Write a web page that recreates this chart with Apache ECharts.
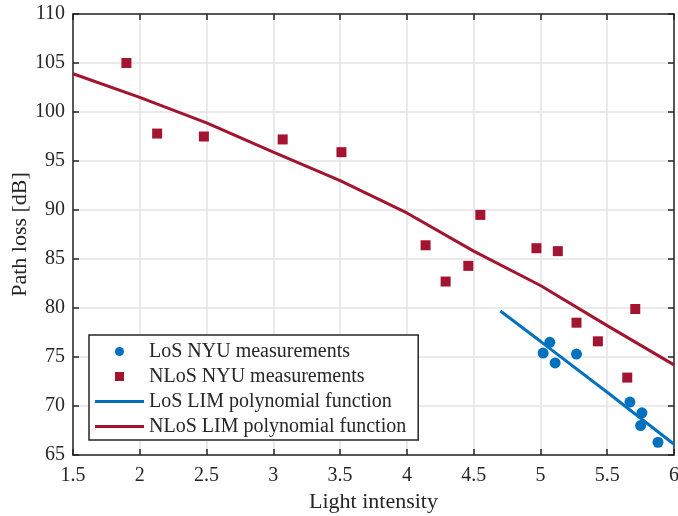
<!DOCTYPE html>
<html>
<head>
<meta charset="utf-8">
<script src="https://cdn.jsdelivr.net/npm/echarts@6/dist/echarts.min.js"></script>
<style>html,body{margin:0;padding:0;background:#fff}#c{width:678px;height:516px}</style>
</head>
<body>
<div id="c"></div>
<script>
// LoS NYU measurements
const losX = [5.02, 5.07, 5.11, 5.27, 5.67, 5.75, 5.76, 5.88];
const losY = [75.4, 76.5, 74.4, 75.3, 70.4, 68.0, 69.3, 66.3];
// NLoS NYU measurements
const nlosX = [1.90, 2.13, 2.48, 3.07, 3.51, 4.14, 4.29, 4.46, 4.55, 4.97, 5.13, 5.27, 5.43, 5.65, 5.71];
const nlosY = [105.0, 97.8, 97.5, 97.2, 95.9, 86.4, 82.7, 84.3, 89.5, 86.1, 85.8, 78.5, 76.6, 72.9, 79.9];
// LoS LIM polynomial function
const losFitX = [4.7, 5.0, 5.5, 6.0];
const losFitY = [79.7, 76.6, 71.4, 66.1];
// NLoS LIM polynomial function
const nlosFitX = [1.5, 2.0, 2.5, 3.0, 3.5, 4.0, 4.5, 5.0, 5.5, 6.0];
const nlosFitY = [103.9, 101.5, 98.9, 95.9, 93.0, 89.7, 85.8, 82.3, 78.2, 74.2];

const seriesNames = ['LoS NYU measurements', 'NLoS NYU measurements', 'LoS LIM polynomial function', 'NLoS LIM polynomial function'];
const xTicks = { min: 1.5, max: 6, interval: 0.5 };
const yTicks = { min: 65, max: 110, interval: 5 };

const zip = (xs, ys) => xs.map((x, i) => [x, ys[i]]);
const BLUE = '#0072BD', RED = '#A2142F';
const FONT = 'Liberation Serif';

const chart = echarts.init(document.getElementById('c'), null, { renderer: 'canvas' });

const axisCommon = {
  type: 'value',
  axisLine: { show: true, onZero: false, lineStyle: { color: '#262626', width: 1.5 } },
  axisTick: { show: true, inside: true, length: 6, lineStyle: { color: '#262626', width: 1.5 } },
  splitLine: { show: false },
};

chart.setOption({
  animation: false,
  backgroundColor: '#fff',
  grid: { left: 73, top: 14, right: 4, bottom: 61, containLabel: false, outerBoundsMode: 'none' },
  xAxis: [
    Object.assign({}, axisCommon, {
      min: xTicks.min, max: xTicks.max, interval: xTicks.interval,
      position: 'bottom',
      name: 'Light intensity', nameLocation: 'middle', nameGap: 36, nameMoveOverlap: false,
      nameTextStyle: { fontFamily: FONT, fontSize: 22, color: '#262626' },
      axisLabel: { fontFamily: FONT, fontSize: 20, color: '#262626', margin: 11 },
      splitLine: { show: true, lineStyle: { color: '#e3e3e3', width: 1.5 } }
    }),
    Object.assign({}, axisCommon, {
      min: xTicks.min, max: xTicks.max, interval: xTicks.interval,
      position: 'top', axisLabel: { show: false }
    })
  ],
  yAxis: [
    Object.assign({}, axisCommon, {
      min: yTicks.min, max: yTicks.max, interval: yTicks.interval,
      position: 'left',
      name: 'Path loss [dB]', nameLocation: 'middle', nameGap: 42, nameRotate: 90, nameMoveOverlap: false,
      nameTextStyle: { fontFamily: FONT, fontSize: 22, color: '#262626' },
      axisLabel: { fontFamily: FONT, fontSize: 20, color: '#262626', margin: 8 },
      splitLine: { show: true, lineStyle: { color: '#e3e3e3', width: 1.5 } }
    }),
    Object.assign({}, axisCommon, {
      min: yTicks.min, max: yTicks.max, interval: yTicks.interval,
      position: 'right', axisLabel: { show: false }
    })
  ],
  legend: {
    orient: 'vertical',
    left: 89, top: 335,
    padding: [4, 12, 1, 6],
    itemGap: 0,
    itemWidth: 49,
    itemHeight: 9,
    symbolKeepAspect: true,
    backgroundColor: '#fff',
    borderColor: '#262626',
    borderWidth: 1.5,
    borderRadius: 0,
    textStyle: { fontFamily: FONT, fontSize: 20, color: '#262626', lineHeight: 25 },
    data: [
      { name: seriesNames[0], icon: 'circle' },
      { name: seriesNames[1], icon: 'path://M0 0H1V1H0Z' },
      { name: seriesNames[2], icon: 'path://M0 0H49V3H0Z', itemStyle: { color: BLUE } },
      { name: seriesNames[3], icon: 'path://M0 0H49V3H0Z', itemStyle: { color: RED } }
    ]
  },
  series: [
    {
      name: seriesNames[0], type: 'scatter', symbol: 'circle', symbolSize: 11,
      itemStyle: { color: BLUE, opacity: 1 }, data: zip(losX, losY), z: 4
    },
    {
      name: seriesNames[1], type: 'scatter', symbol: 'rect', symbolSize: 10,
      itemStyle: { color: RED, opacity: 1 }, data: zip(nlosX, nlosY), z: 4
    },
    {
      name: seriesNames[2], type: 'line', symbol: 'none', showSymbol: false,
      lineStyle: { color: BLUE, width: 3 }, itemStyle: { color: BLUE },
      data: zip(losFitX, losFitY), z: 3
    },
    {
      name: seriesNames[3], type: 'line', symbol: 'none', showSymbol: false,
      lineStyle: { color: RED, width: 3 }, itemStyle: { color: RED },
      data: zip(nlosFitX, nlosFitY), z: 3
    }
  ]
});
</script>
</body>
</html>
